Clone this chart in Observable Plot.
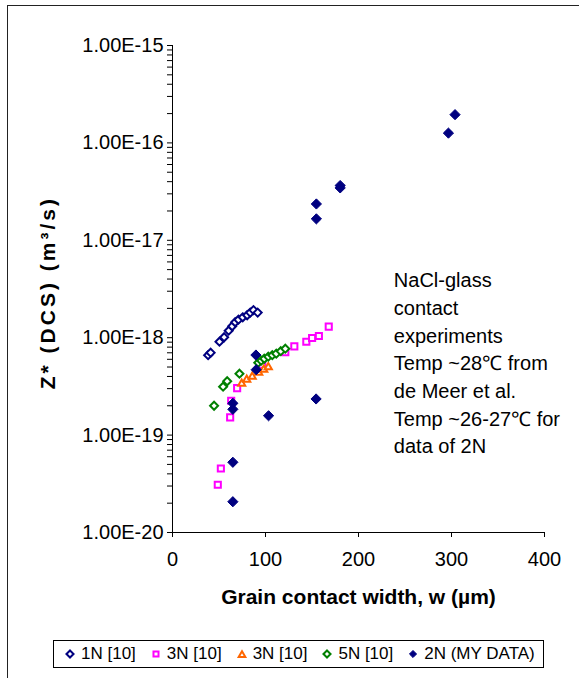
<!DOCTYPE html>
<html>
<head>
<meta charset="utf-8">
<script src="https://cdn.jsdelivr.net/npm/d3@7"></script>
<script src="https://cdn.jsdelivr.net/npm/@observablehq/plot@0.6"></script>
<style>
  html, body { margin: 0; padding: 0; background: #fff; }
  #wrap { position: relative; width: 579px; height: 678px; overflow: hidden; font-family: "Liberation Sans", Arial, sans-serif; }
  #frame { position: absolute; left: 7px; top: 5px; width: 700px; height: 800px; border: 1.5px solid #222; box-sizing: border-box; }
  #chart { position: absolute; left: 0; top: 0; }
  #legend { position: absolute; left: 53px; top: 640px; border: 1px solid #000; background: #fff;
            display: flex; align-items: center; gap: 14px; padding: 3px 8px 3px 10px; font-size: 17px; color: #000; white-space: nowrap; }
  .item { display: flex; align-items: center; gap: 5px; }
  .item svg { display: block; }
</style>
</head>
<body>
<div id="wrap">
  <div id="frame"></div>
  <div id="chart"></div>
  <div id="legend"></div>
</div>
<script>
// ---------- data ----------
const seriesNames = ["1N [10]", "3N [10]", "3N [10]", "5N [10]", "2N (MY DATA)"];

// 1N [10]
const w1N = [38.3, 41.0, 50.5, 55.5, 60.4, 64.2, 67.4, 70.9, 75.5, 80.3, 83.6, 87.1, 91.6];
const z1N = [6.61e-19, 7.02e-19, 9.10e-19, 1.01e-18, 1.18e-18, 1.31e-18, 1.44e-18, 1.53e-18, 1.62e-18, 1.70e-18, 1.81e-18, 1.92e-18, 1.81e-18];

// 3N [10] (squares)
const w3Na = [48.7, 52.0, 62.0, 63.1, 69.5, 96.5, 121.3, 131.0, 143.9, 150.1, 157.4, 168.0];
const z3Na = [3.09e-20, 4.54e-20, 1.52e-19, 2.25e-19, 3.04e-19, 5.28e-19, 7.10e-19, 8.15e-19, 9.10e-19, 9.93e-19, 1.04e-18, 1.30e-18];

// 3N [10] (triangles)
const w3Nb = [74.4, 79.8, 85.7, 92.7, 98.1, 103.0];
const z3Nb = [3.37e-19, 3.71e-19, 3.98e-19, 4.37e-19, 4.69e-19, 4.98e-19];

// 5N [10]
const w5N = [44.7, 54.4, 58.8, 72.0, 92.2, 95.4, 98.7, 103.0, 107.3, 111.6, 116.4, 121.3];
const z5N = [2.00e-19, 3.14e-19, 3.57e-19, 4.27e-19, 5.54e-19, 5.81e-19, 6.08e-19, 6.38e-19, 6.61e-19, 6.86e-19, 7.27e-19, 7.71e-19];

// 2N (MY DATA)
const w2N = [89.7, 90.0, 64.9, 64.9, 103.3, 154.4, 64.9, 64.9, 303.8, 296.7, 180.3, 180.3, 154.7, 154.7];
const z2N = [6.64e-19, 4.69e-19, 2.12e-19, 1.84e-19, 1.58e-19, 2.35e-19, 5.26e-20, 2.07e-20, 1.95e-16, 1.26e-16, 3.65e-17, 3.45e-17, 2.36e-17, 1.66e-17];

// axes
const xTicks = [0, 100, 200, 300, 400];
const yTickLabels = ["1.00E-20", "1.00E-19", "1.00E-18", "1.00E-17", "1.00E-16", "1.00E-15"];
const xTitle = "Grain contact width, w (\u00b5m)";
const yTitle = "Z* (DCS) (m\u00b3/s)";
const yTitleZ = 2.9e-18;

// annotation
const noteLines = ["NaCl-glass", "contact", "experiments", "Temp ~28\u2103 from", "de Meer et al.", "Temp ~26-27\u2103 for", "data of 2N"];
const noteW = 238;
const noteZ = 5.24e-18;

// ---------- build ----------
const yTicks = yTickLabels.map(Number);
const minorTicks = [];
for (let e = -20; e < -15; e++) for (let k = 2; k <= 9; k++) minorTicks.push(+(k + "e" + e));

const toRows = (ws, zs) => ws.map((w, i) => ({w, z: zs[i]}));
const rows = [toRows(w1N, z1N), toRows(w3Na, z3Na), toRows(w3Nb, z3Nb), toRows(w5N, z5N), toRows(w2N, z2N)];

const styles = [
  {symbol: "diamond2", r: 3.6, stroke: "#000080", fill: "white", strokeWidth: 2},
  {symbol: "square2", r: 3.9, stroke: "#FF00FF", fill: "white", strokeWidth: 2},
  {symbol: "triangle2", r: 3.4, stroke: "#FF6600", fill: "white", strokeWidth: 2},
  {symbol: "diamond2", r: 3.6, stroke: "#008000", fill: "white", strokeWidth: 2},
  {symbol: "diamond2", r: 4.6, stroke: "#000080", fill: "#000080", strokeWidth: 1}
];

const font = "'Liberation Sans', Arial, sans-serif";

const chart = Plot.plot({
  width: 579,
  height: 625,
  marginLeft: 172,
  marginRight: 35,
  marginTop: 45,
  marginBottom: 93,
  style: {fontFamily: font, fontSize: "20px", color: "#000", background: "transparent", overflow: "visible"},
  x: {domain: [0, 400]},
  y: {type: "log", domain: [1e-20, 1e-15]},
  marks: [
    Plot.axisY(minorTicks, {tickSize: 5, tickFormat: () => "", label: null, stroke: "#000"}),
    Plot.axisY(yTicks, {tickSize: 5, tickPadding: 4, tickFormat: d => yTickLabels[yTicks.indexOf(d)], label: null, stroke: "#000", fontSize: 20}),
    Plot.axisX(xTicks, {tickSize: 5, tickPadding: 14, label: null, stroke: "#000", fontSize: 20}),
    Plot.ruleX([0], {stroke: "#000", strokeWidth: 1}),
    Plot.ruleY([1e-20], {stroke: "#000", strokeWidth: 1}),
    ...rows.map((data, i) => Plot.dot(data, {x: "w", y: "z", ...styles[i]})),
    Plot.text([{w: noteW, z: noteZ, t: noteLines.join("\n")}], {
      x: "w", y: "z", text: "t", textAnchor: "start", lineAnchor: "top", lineHeight: 1.385, fontSize: 20, fill: "#000"
    }),
    Plot.text([xTitle], {frameAnchor: "bottom", textAnchor: "middle", dy: 71, fontWeight: "bold", fontSize: 21, fill: "#000"}),
    Plot.text([{z: yTitleZ, t: yTitle}], {y: "z", text: "t", frameAnchor: "left", textAnchor: "middle", rotate: -90, dx: -124, fontWeight: "bold", fontSize: 21, fill: "#000"})
  ]
});
// the rotated title in the reference is set a little more loosely
d3.select(chart).selectAll("text").filter(function () { return this.textContent === yTitle; })
  .attr("letter-spacing", "3px");
document.getElementById("chart").append(chart);

// ---------- legend ----------
const legend = document.getElementById("legend");
seriesNames.forEach((name, i) => {
  const st = styles[i];
  const item = document.createElement("div");
  item.className = "item";
  const size = 12;
  const svg = d3.create("svg").attr("width", size).attr("height", size);
  const symType = {diamond2: d3.symbolDiamond2, square2: d3.symbolSquare2, triangle2: d3.symbolTriangle2}[st.symbol];
  svg.append("path")
    .attr("transform", `translate(${size / 2},${size / 2 + (st.symbol === "triangle2" ? 1 : 0)})`)
    .attr("d", d3.symbol(symType, Math.PI * 3.2 * 3.2)())
    .attr("fill", st.fill)
    .attr("stroke", st.stroke)
    .attr("stroke-width", st.strokeWidth);
  item.append(svg.node());
  const span = document.createElement("span");
  span.textContent = name;
  item.append(span);
  legend.append(item);
});
</script>
</body>
</html>
